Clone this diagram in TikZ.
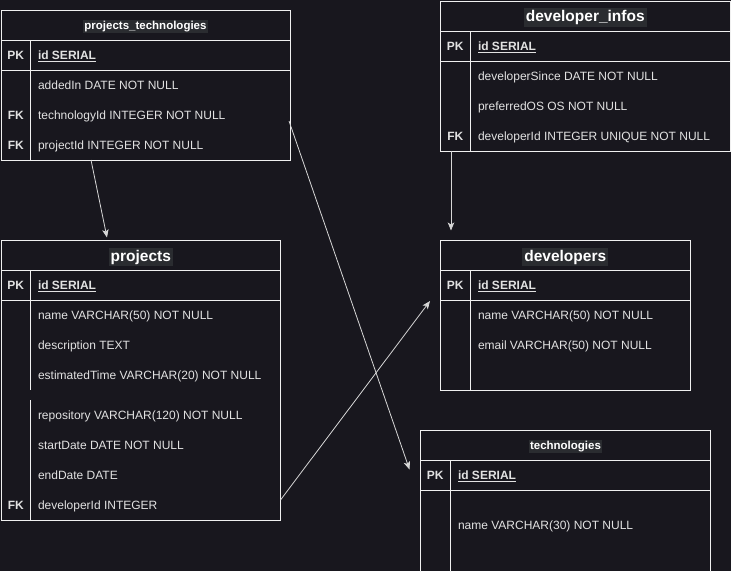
\documentclass[tikz,border=0pt]{standalone}
\usepackage{fontspec}
\setmainfont{Liberation Sans}
\usetikzlibrary{positioning,arrows.meta}

\definecolor{bgc}{RGB}{24,23,30}
\definecolor{hlc}{RGB}{42,44,48}
\definecolor{linec}{RGB}{240,240,240}
\definecolor{txtc}{RGB}{226,226,226}
\definecolor{arrc}{RGB}{215,215,215}

\newcommand{\ttlsmall}[1]{{\setlength{\fboxsep}{1.5pt}\raisebox{-1pt}[\height][\depth]{\colorbox{hlc}{\fontsize{11.5}{13}\selectfont\bfseries\color{white}#1}}}}
\newcommand{\ttlbig}[1]{{\setlength{\fboxsep}{2pt}\raisebox{-1.5pt}[\height][\depth]{\colorbox{hlc}{\fontsize{15.5}{18}\selectfont\bfseries\color{white}#1}}}}
\newcommand{\pkfield}[1]{\textbf{\underline{#1}}}

\begin{document}
\begin{tikzpicture}[x=1pt, y=-1pt]
    \tikzstyle{every node}=[font=\fontsize{12}{14}\selectfont, text=txtc, inner sep=0pt, outer sep=0pt]
    \tikzset{
        frame/.style={draw=linec, line width=1pt, anchor=north west},
        row/.style={frame, minimum height=30pt},
        keycol/.style={anchor=north west, minimum width=29.5pt},
        fld/.style={anchor=west, text height=10pt, text depth=1.5pt},
        key/.style={fld, anchor=center, font=\fontsize{12}{14}\selectfont\bfseries},
        div/.style={draw=linec, line width=1pt},
        conn/.style={draw=arrc, line width=0.8pt, -{Stealth[length=8pt, width=6.5pt, inset=2pt]}}
    }

    %background
    \fill[bgc] (0,0) rectangle (731,571);
    \useasboundingbox (0,0) rectangle (731,571);
    \clip (0,0) rectangle (731,571);

    %projects_technologies
    \node (pt) [frame, minimum width=289pt, minimum height=149.5pt] at (1,10.5) {};
    \node (pt-title) [row, minimum width=289pt] at (pt.north west) {\ttlsmall{projects\_technologies}};
    \node (pt-pk) [row, minimum width=289pt] at (pt-title.south west) {};
    \node (pt-keys) [keycol, minimum height=119.5pt] at (pt-title.south west) {};
    \draw[div] (pt-keys.north east) -- (pt-keys.south east);
    \node (pt-pkkey) [key] at (pt-keys.center |- pt-pk.west) {PK};
    \node (pt-id) [fld] at ([xshift=37pt]pt-pk.west) {\pkfield{id SERIAL}};
    \node (pt-added) [fld] at ([xshift=37pt, yshift=-15pt]pt-pk.south west) {addedIn DATE NOT NULL};
    \node (pt-tech) [fld] at ([yshift=-30pt]pt-added.west) {technologyId INTEGER NOT NULL};
    \node (pt-proj) [fld] at ([yshift=-30pt]pt-tech.west) {projectId INTEGER NOT NULL};
    \node (pt-fk1) [key] at (pt-keys.center |- pt-tech.west) {FK};
    \node (pt-fk2) [key] at (pt-keys.center |- pt-proj.west) {FK};

    %developer_infos
    \node (di) [frame, minimum width=289.5pt, minimum height=150pt] at (440.5,1) {};
    \node (di-title) [row, minimum width=289.5pt] at (di.north west) {\ttlbig{developer\_infos}};
    \node (di-pk) [row, minimum width=289.5pt] at (di-title.south west) {};
    \node (di-keys) [keycol, minimum height=120pt] at (di-title.south west) {};
    \draw[div] (di-keys.north east) -- (di-keys.south east);
    \node (di-pkkey) [key] at (di-keys.center |- di-pk.west) {PK};
    \node (di-id) [fld] at ([xshift=37.5pt]di-pk.west) {\pkfield{id SERIAL}};
    \node (di-since) [fld] at ([xshift=37.5pt, yshift=-15pt]di-pk.south west) {developerSince DATE NOT NULL};
    \node (di-os) [fld] at ([yshift=-30pt]di-since.west) {preferredOS OS NOT NULL};
    \node (di-dev) [fld] at ([yshift=-30pt]di-os.west) {developerId INTEGER UNIQUE NOT NULL};
    \node (di-fk) [key] at (di-keys.center |- di-dev.west) {FK};

    %projects
    \node (pr) [frame, minimum width=279.5pt, minimum height=279.5pt] at (1,240.5) {};
    \node (pr-title) [row, minimum width=279.5pt] at (pr.north west) {\ttlbig{projects}};
    \node (pr-pk) [row, minimum width=279.5pt] at (pr-title.south west) {};
    \node (pr-keys) [keycol, minimum height=249.5pt] at (pr-title.south west) {};
    \draw[div] (pr-keys.north east) -- ++(0,119.5);
    \draw[div] ([yshift=120pt]pr-keys.south east) -- (pr-keys.south east);
    \node (pr-pkkey) [key] at (pr-keys.center |- pr-pk.west) {PK};
    \node (pr-id) [fld] at ([xshift=37pt]pr-pk.west) {\pkfield{id SERIAL}};
    \node (pr-name) [fld] at ([xshift=37pt, yshift=-15pt]pr-pk.south west) {name VARCHAR(50) NOT NULL};
    \node (pr-desc) [fld] at ([yshift=-30pt]pr-name.west) {description TEXT};
    \node (pr-time) [fld] at ([yshift=-30pt]pr-desc.west) {estimatedTime VARCHAR(20) NOT NULL};
    \node (pr-repo) [fld] at ([yshift=-40pt]pr-time.west) {repository VARCHAR(120) NOT NULL};
    \node (pr-start) [fld] at ([yshift=-30pt]pr-repo.west) {startDate DATE NOT NULL};
    \node (pr-end) [fld] at ([yshift=-30pt]pr-start.west) {endDate DATE};
    \node (pr-dev) [fld] at ([yshift=-30pt]pr-end.west) {developerId INTEGER};
    \node (pr-fk) [key] at (pr-keys.center |- pr-dev.west) {FK};

    %developers
    \node (dv) [frame, minimum width=249.5pt, minimum height=149.5pt] at (440.5,240.5) {};
    \node (dv-title) [row, minimum width=249.5pt] at (dv.north west) {\ttlbig{developers}};
    \node (dv-pk) [row, minimum width=249.5pt] at (dv-title.south west) {};
    \node (dv-keys) [keycol, minimum height=119.5pt] at (dv-title.south west) {};
    \draw[div] (dv-keys.north east) -- (dv-keys.south east);
    \node (dv-pkkey) [key] at (dv-keys.center |- dv-pk.west) {PK};
    \node (dv-id) [fld] at ([xshift=37.5pt]dv-pk.west) {\pkfield{id SERIAL}};
    \node (dv-name) [fld] at ([xshift=37.5pt, yshift=-15pt]dv-pk.south west) {name VARCHAR(50) NOT NULL};
    \node (dv-mail) [fld] at ([yshift=-30pt]dv-name.west) {email VARCHAR(50) NOT NULL};

    %technologies
    \node (te) [frame, minimum width=290pt, minimum height=150pt] at (420.5,430.5) {};
    \node (te-title) [row, minimum width=290pt] at (te.north west) {\ttlsmall{technologies}};
    \node (te-pk) [row, minimum width=290pt] at (te-title.south west) {};
    \node (te-keys) [keycol, minimum height=120pt] at (te-title.south west) {};
    \draw[div] (te-keys.north east) -- (te-keys.south east);
    \node (te-pkkey) [key] at (te-keys.center |- te-pk.west) {PK};
    \node (te-id) [fld] at ([xshift=37.5pt]te-pk.west) {\pkfield{id SERIAL}};
    \node (te-name) [fld] at ([xshift=37.5pt, yshift=-35pt]te-pk.south west) {name VARCHAR(30) NOT NULL};

    %relations
    \draw[conn] ([xshift=90pt]pt.south west) -- ([xshift=106pt, yshift=3pt]pr.north west);
    \draw[conn] ([xshift=-1pt, yshift=-110.5pt]pt.north east) -- ([xshift=-11pt, yshift=-39pt]te.north west);
    \draw[conn] ([yshift=20pt]pr.south east) -- ([xshift=-10.5pt, yshift=-60.5pt]dv.north west);
    \draw[conn] ([xshift=10.5pt]di.south west) -- ([xshift=10.5pt, yshift=10pt]dv.north west);
\end{tikzpicture}
\end{document}
